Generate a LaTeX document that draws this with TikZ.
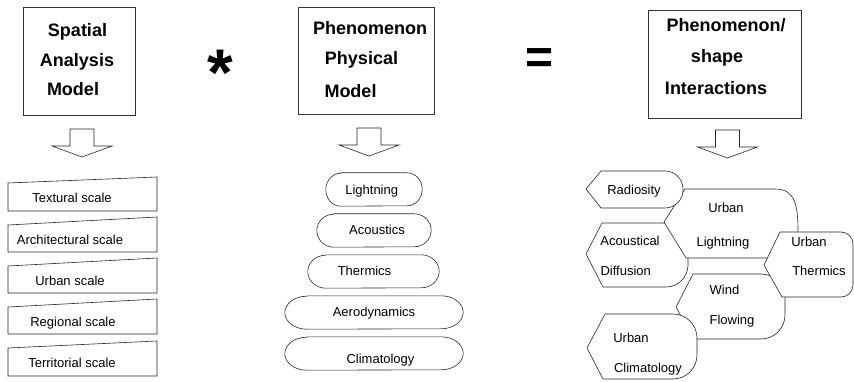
\documentclass[tikz,border=0pt]{standalone}
\usepackage{fontspec}
\setmainfont{Liberation Sans}
\newcommand\ovalnode[5]{%
  \node[minimum width=#4pt, minimum height=33pt, inner sep=0pt] (#1) at (#2,#3) {};
  \draw[ln] ([xshift=#5pt]#1.north west) -- ([xshift=-#5pt]#1.north east)
    arc[start angle=90,end angle=-90,x radius=#5pt,y radius=16.5pt]
    -- ([xshift=#5pt]#1.south west)
    arc[start angle=270,end angle=90,x radius=#5pt,y radius=16.5pt] -- cycle;}
\newcommand\blockarrow[2]{%
  \draw[ln] (#1,#2) ++(-12,0) -- ++(0,17) -- ++(-18,0) -- ++(30,11) -- ++(30,-11) -- ++(-18,0) -- ++(0,-17) -- cycle;}
\begin{document}
\begin{tikzpicture}[x=1pt,y=-1pt,
  ln/.style={draw=black!85, line width=0.6pt},
  titlebox/.style={draw=black!80, line width=0.7pt, inner sep=0pt},
  titletext/.style={font=\bfseries\fontsize{18}{18}\selectfont, anchor=base, inner sep=0pt},
  lbl/.style={font=\fontsize{13}{13}\selectfont, anchor=base, inner sep=0pt},
  shp/.style={ln, fill=white}]
\useasboundingbox (0,0) rectangle (854,382);

% title boxes
\node[titlebox, minimum width=112pt, minimum height=108pt] (b1) at (79,61) {};
\node[titlebox, minimum width=136pt, minimum height=107pt] (b2) at (366,60.5) {};
\node[titlebox, minimum width=153pt, minimum height=108pt] (b3) at (724.5,64) {};
\node[titletext] (b1a) at (77.5,37) {Spatial};
\node[titletext] (b1b) at (77,67) {Analysis};
\node[titletext] (b1c) at (73,96) {Model};
\node[titletext] (b2a) at (370,35) {Phenomenon};
\node[titletext] (b2b) at (361.5,65) {Physical};
\node[titletext] (b2c) at (350.5,98) {Model};
\node[titletext] (b3a) at (726,32) {Phenomenon/};
\node[titletext] (b3b) at (717,63) {shape};
\node[titletext] (b3c) at (716,95) {Interactions};

% operators
\node[font=\bfseries\fontsize{66}{66}\selectfont, anchor=base, inner sep=0pt] (star) at (220,96) {*};
\node[font=\bfseries\fontsize{48}{48}\selectfont, anchor=base, inner sep=0pt] (eq) at (540,74) {=};

% arrows
\blockarrow{82}{129}
\blockarrow{369}{128}
\blockarrow{727.5}{130}

% scales
\draw[shp] (8,183) -- (157,177) -- (157,211) -- (8,211) -- cycle;
\draw[shp] (8,225) -- (157,217) -- (157,252) -- (8,252) -- cycle;
\draw[shp] (8,266) -- (157,258) -- (157,293) -- (8,293) -- cycle;
\draw[shp] (8,307) -- (157,299) -- (157,334) -- (8,334) -- cycle;
\draw[shp] (8,348) -- (157,341) -- (157,376) -- (8,376) -- cycle;
\node[lbl] (s1) at (72,203) {Textural scale};
\node[lbl] (s2) at (70,244) {Architectural scale};
\node[lbl] (s3) at (70,285) {Urban scale};
\node[lbl] (s4) at (73,326) {Regional scale};
\node[lbl] (s5) at (72,367) {Territorial scale};

% phenomena
\ovalnode{o1}{374}{189.5}{96}{15}
\ovalnode{o2}{374}{230.5}{114}{17}
\ovalnode{o3}{373.5}{271.5}{131}{18}
\ovalnode{o4}{374}{312.5}{178}{22}
\ovalnode{o5}{374}{353.5}{178}{22}
\node[lbl] (p1) at (371.7,194.5) {Lightning};
\node[lbl] (p2) at (377,235) {Acoustics};
\node[lbl] (p3) at (364.5,275.5) {Thermics};
\node[lbl] (p4) at (374,316.5) {Aerodynamics};
\node[lbl] (p5) at (380.5,363.5) {Climatology};

% interactions
\draw[shp] (586,254) -- (602,223) [rounded corners=22pt] -- (688,223) -- (688,287) [sharp corners] -- (603,287) -- cycle;
\draw[shp] (664,222) -- (685,189) -- (775,189) .. controls (795,189) and (798,205) .. (798,232) -- (798,258) -- (686,258) -- cycle;
\draw[shp] (586,189) -- (601,171) [rounded corners=18pt] -- (683,171) -- (683,208) [sharp corners] -- (601,208) -- cycle;
\draw[shp] (676,307) -- (693,274) [rounded corners=24pt] -- (785,274) -- (785,339) [sharp corners] -- (693,339) -- cycle;
\draw[shp] (764,265) -- (780,232) [rounded corners=12pt] -- (853,232) -- (853,297) [sharp corners] -- (782,297) -- cycle;
\draw[shp] (587,348) -- (605,314) [rounded corners=24pt] -- (697,314) -- (697,379) [sharp corners] -- (603,379) -- cycle;

\node[lbl] (r1) at (634,194.5) {Radiosity};
\node[lbl] (r2a) at (726,213) {Urban};
\node[lbl] (r2b) at (723,246.5) {Lightning};
\node[lbl] (r3a) at (630,246) {Acoustical};
\node[lbl] (r3b) at (625.7,276) {Diffusion};
\node[lbl] (r4a) at (809,247) {Urban};
\node[lbl] (r4b) at (819,276) {Thermics};
\node[lbl] (r5a) at (724.5,294.5) {Wind};
\node[lbl] (r5b) at (732,324.5) {Flowing};
\node[lbl] (r6a) at (631,342) {Urban};
\node[lbl] (r6b) at (648,372.5) {Climatology};
\end{tikzpicture}
\end{document}
